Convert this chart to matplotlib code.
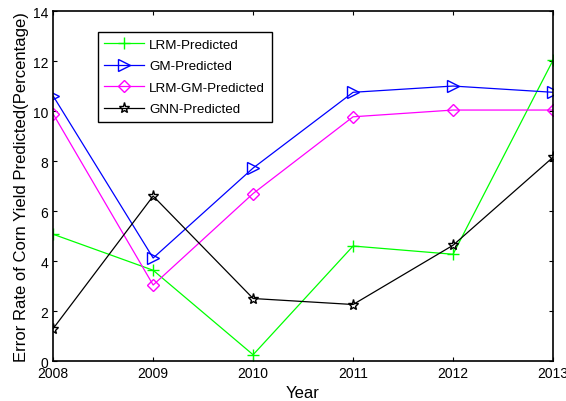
import matplotlib
matplotlib.use('Agg')
import matplotlib.pyplot as plt

plt.rcParams['font.family'] = ['Liberation Sans', 'DejaVu Sans']

years = [2008, 2009, 2010, 2011, 2012, 2013]
lrm = [5.07, 3.63, 0.25, 4.6, 4.27, 12.03]
gm = [10.6, 4.12, 7.72, 10.75, 11.0, 10.75]
lrm_gm = [9.88, 3.04, 6.7, 9.77, 10.04, 10.04]
gnn = [1.3, 6.6, 2.5, 2.26, 4.63, 8.15]

fig = plt.figure(figsize=(5.66, 4.02), dpi=100)
ax = fig.add_axes([0.094, 0.0995, 0.883, 0.8705])

ax.plot(years, lrm, color=(0, 1, 0), marker='+', markersize=9, lw=0.9, label='LRM-Predicted')
ax.plot(years, gm, color=(0, 0, 1), marker='>', markersize=9, mfc='none', lw=0.9, label='GM-Predicted')
ax.plot(years, lrm_gm, color=(1, 0, 1), marker='D', markersize=6.5, mfc='none', lw=0.9, label='LRM-GM-Predicted')
ax.plot(years, gnn, color='black', marker='*', markersize=8, mfc='none', lw=0.9, label='GNN-Predicted')

ax.set_xlim(2008, 2013)
ax.set_ylim(0, 14)
ax.set_xticks(years)
ax.set_yticks(range(0, 15, 2))
ax.tick_params(direction='in', top=True, right=True, labelsize=10, length=3, width=0.8)
for s in ax.spines.values():
    s.set_linewidth(1.2)

ax.set_xlabel('Year', fontsize=12, labelpad=4)
ax.set_ylabel('Error Rate of Corn Yield Predicted(Percentage)', fontsize=12, labelpad=3)

leg = ax.legend(loc='upper left', bbox_to_anchor=(0.089, 0.94), borderaxespad=0,
                fontsize=9.6, fancybox=False, framealpha=1, edgecolor='black',
                handlelength=3, handletextpad=0.35, labelspacing=0.68, borderpad=0.5)
leg.get_frame().set_linewidth(1.0)

fig.savefig('out.png', dpi=100)
